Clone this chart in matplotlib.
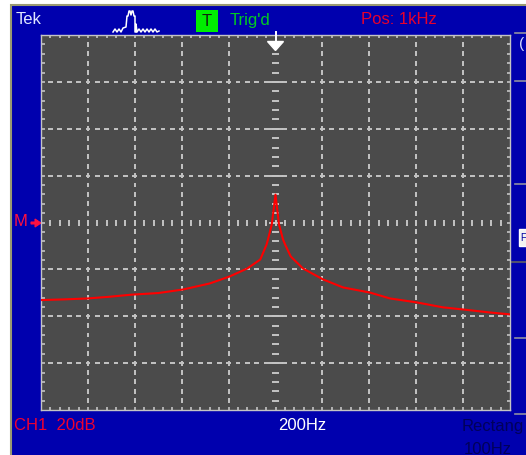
import numpy as np
import matplotlib.pyplot as plt
from matplotlib.patches import Rectangle, Polygon

# spectrum trace (frequency in Hz, level in dB relative to the M marker)
freqs = [0, 100, 200, 290, 385, 500, 605, 720, 805, 880, 935, 962, 968, 984, 1000,
         1015, 1032, 1041, 1065, 1117, 1203, 1288, 1403, 1488, 1603, 1714, 1799, 1915, 2000]
levels = [-33.1, -32.8, -32.4, -31.7, -30.8, -30.1, -28.6, -26.0, -23.0, -19.6, -15.8, -9.4, -7.2, -0.9, 11.9,
          -0.9, -7.2, -9.4, -14.5, -19.6, -24.3, -27.7, -29.9, -32.4, -34.1, -36.2, -37.1, -38.4, -39.2]

top_labels = ["Tek", "Trig'd", "Pos: 1kHz"]
bottom_labels = ["CH1  20dB", "200Hz"]
menu_labels = ["Rectang", "100Hz"]

XMAX, YMIN, YMAX = 2000, -80, 80
XDIV, YDIV = 200, 20

BLUE = '#0000ae'
SCREEN = '#4b4b4b'
GRID = '#c4c4c4'
FONT = 'Liberation Sans'

fig = plt.figure(figsize=(5.26, 4.55), dpi=100, facecolor='white')

# background in pixel coordinates
bg = fig.add_axes([0, 0, 1, 1])
bg.set_xlim(0, 526)
bg.set_ylim(455, 0)
bg.axis('off')
bg.add_patch(Rectangle((11, 5), 530, 470, facecolor=BLUE, edgecolor='#9a9a72', lw=1.5))

# top status bar
bg.text(16, 20, top_labels[0], color='#dfe6ff', fontsize=12, family=FONT, va='center')
icon_x = [113, 115, 117, 119, 121, 123, 126, 127, 128, 129, 130, 131, 132, 133, 134, 135, 135, 136, 136,
          137, 139, 141, 143, 145, 147, 149, 151, 153, 155, 157, 159]
icon_y = [32, 29, 32, 29, 32, 28, 27, 16, 16, 11, 11, 15, 11, 11, 16, 16, 32, 32, 24,
          32, 29, 32, 29, 32, 29, 32, 29, 32, 29, 32, 31]
bg.plot(icon_x, icon_y, color='white', lw=1.1)
bg.add_patch(Rectangle((196, 10), 22, 22, facecolor='#00ee00', edgecolor='none'))
bg.text(207, 21, "T", color='#102010', fontsize=12, family=FONT, ha='center', va='center')
bg.text(230, 20, top_labels[1], color='#00cc22', fontsize=12, family=FONT, va='center')
bg.text(361, 20, top_labels[2], color='#e8002c', fontsize=12, family=FONT, va='center')

# bottom status bar
bg.text(14, 425, bottom_labels[0], color='#f00030', fontsize=12, family=FONT, va='center')
bg.text(278, 425, bottom_labels[1], color='white', fontsize=12, family=FONT, va='center')
bg.text(462, 427, menu_labels[0], color='#00005a', fontsize=12, family=FONT, va='center')
bg.text(464, 449, menu_labels[1], color='#00005a', fontsize=12, family=FONT, va='center')

# right side menu separators
for yy in [33, 81, 184, 262, 338, 414]:
    bg.plot([515, 526], [yy, yy], color='#9090a0', lw=1.2)
bg.plot([511, 526], [262, 262], color='#505070', lw=1.5)
bg.text(519, 44, "(", color='#d0d8ff', fontsize=11, family=FONT, va='center')
bg.add_patch(Rectangle((519, 229), 12, 17, facecolor='#f2f2f2', edgecolor='white', lw=1))
bg.text(520, 238, "F", color='#0000a0', fontsize=7, family=FONT, va='center')

# M reference marker
bg.text(14, 221, "M", color='#ff1040', fontsize=12, family=FONT, va='center')
bg.add_patch(Polygon([[31, 222], [35, 222], [35, 219], [41, 223], [35, 227], [35, 224], [31, 224]],
                     closed=True, facecolor='#ff1040', edgecolor='#ff1040', lw=0.8))

# screen
ax = fig.add_axes([41 / 526, 1 - 410 / 455, 469 / 526, 375 / 455], zorder=2)
ax.set_facecolor(SCREEN)
ax.set_xlim(0, XMAX)
ax.set_ylim(YMIN, YMAX)
ax.set_xticks([])
ax.set_yticks([])
for s in ax.spines.values():
    s.set_color(GRID)
    s.set_linewidth(1.0)

minor_x = np.arange(XDIV / 5, XMAX, XDIV / 5)
minor_y = np.arange(YMIN + YDIV / 5, YMAX, YDIV / 5)
px_x = XMAX / 469.0   # Hz per pixel
px_y = (YMAX - YMIN) / 375.0  # dB per pixel

# dashed graticule
for xv in np.arange(XDIV, XMAX, XDIV):
    if xv == XMAX / 2:
        continue
    ax.vlines(np.full(len(minor_y), xv), minor_y - 2.4 * px_y, minor_y + 2.4 * px_y, colors=GRID, lw=1.4)
for yv in np.arange(YMIN + YDIV, YMAX, YDIV):
    if yv == 0:
        continue
    ax.hlines(np.full(len(minor_x), yv), minor_x - 2.4 * px_x, minor_x + 2.4 * px_x, colors=GRID, lw=1.4)

# center cross with minor ticks
cx = XMAX / 2
ax.hlines(minor_y, cx - 3.5 * px_x, cx + 3.5 * px_x, colors=GRID, lw=1.4)
major_y = np.arange(YMIN + YDIV, YMAX, YDIV)
ax.hlines(major_y, cx - 7 * px_x, cx + 7 * px_x, colors=GRID, lw=1.4)
ax.vlines(minor_x, -3 * px_y, 3 * px_y, colors=GRID, lw=1.4)

# edge ticks
ax.vlines(minor_x, YMAX - 3 * px_y, YMAX, colors=GRID, lw=1.2)
ax.vlines(minor_x, YMIN, YMIN + 3 * px_y, colors=GRID, lw=1.2)
ax.hlines(minor_y, 0, 3.5 * px_x, colors=GRID, lw=1.2)
ax.hlines(minor_y, XMAX - 3.5 * px_x, XMAX, colors=GRID, lw=1.2)

# trace
ax.plot(freqs, levels, color='#ff0000', lw=1.5, zorder=5)

# trigger position marker
ax.add_patch(Polygon([[cx - 8 * px_x, YMAX - 6.5 * px_y], [cx + 8 * px_x, YMAX - 6.5 * px_y],
                      [cx, YMAX - 15.5 * px_y]], closed=True, facecolor='white', edgecolor='white',
                     clip_on=False, zorder=6))
ax.plot([cx, cx], [YMAX + 3 * px_y, YMAX - 7 * px_y], color='white', lw=1.4, clip_on=False, zorder=6)

fig.savefig('out.png', dpi=100, facecolor='white')
